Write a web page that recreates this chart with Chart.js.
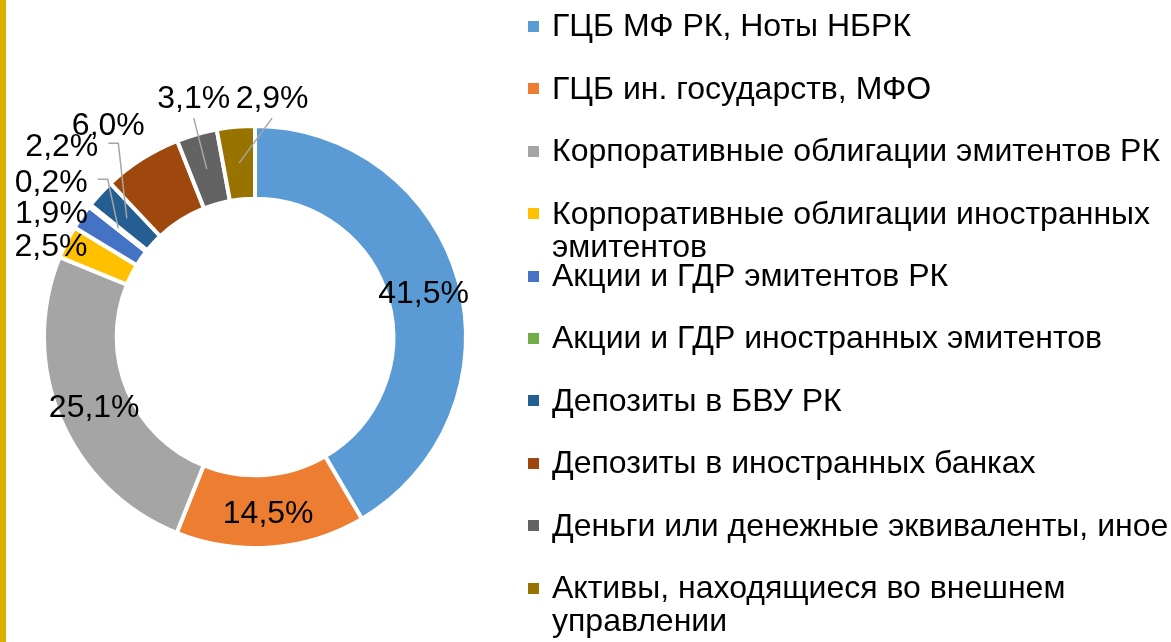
<!DOCTYPE html>
<html lang="ru">
<head>
<meta charset="utf-8">
<title>Структура портфеля</title>
<script src="https://cdn.jsdelivr.net/npm/chart.js@4.4.1/dist/chart.umd.min.js"></script>
<style>
    html, body {
        margin: 0;
        padding: 0;
        background: #ffffff;
        overflow: hidden;
    }
    .pagina {
        position: relative;
        width: 1171px;
        height: 642px;
        border-left: 6px solid #dbae00;
        box-sizing: border-box;
    }
    #grafico {
        position: absolute;
        left: -6px;
        top: 0;
    }
    .legenda-item {
        position: absolute;
        left: 546px;
        font-family: "Liberation Sans", Arial, sans-serif;
        font-size: 32px;
        line-height: 33px;
        color: #000000;
        white-space: nowrap;
    }
    .legenda-cor {
        position: absolute;
        left: -24px;
        width: 11px;
        height: 11px;
    }
</style>
</head>
<body>
<div class="pagina">
    <canvas id="grafico" width="1171" height="642"></canvas>
    <div id="legenda"></div>
</div>
<script>
const categorias = [
    'ГЦБ МФ РК, Ноты НБРК',
    'ГЦБ ин. государств, МФО',
    'Корпоративные облигации эмитентов РК',
    ['Корпоративные облигации иностранных', 'эмитентов'],
    'Акции и ГДР эмитентов РК',
    'Акции и ГДР иностранных эмитентов',
    'Депозиты в БВУ РК',
    'Депозиты в иностранных банках',
    'Деньги или денежные эквиваленты, иное',
    ['Активы, находящиеся во внешнем', 'управлении']
];
const valores = [41.5, 14.5, 25.1, 2.5, 1.9, 0.2, 2.2, 6.0, 3.1, 2.9];
const cores = [
    '#5b9bd5', '#ed7d31', '#a5a5a5', '#ffc000', '#4472c4',
    '#70ad47', '#255e91', '#9e480e', '#636363', '#997300'
];

// posicao dos rotulos em relacao ao centro de cada fatia (null = dentro da fatia)
const posRotulos = [
    null, null, null,
    { dx: -48, dy: -14 },
    { dx: -60, dy: -26 },
    { dx: -67, dy: -48, guia: 'lado' },
    { dx: -65, dy: -74, guia: 'lado' },
    { dx: -53, dy: -66 },
    { dx: -13, dy: -73, guia: 'baixo' },
    { dx: 33, dy: -67, guia: 'baixo' }
];

const TAM_FONTE = 32;

function formatarPct(v) {
    return v.toFixed(1).replace('.', ',') + '%';
}

const rotulosPlugin = {
    id: 'rotulosPct',
    afterDatasetsDraw(chart) {
        const ctx = chart.ctx;
        const meta = chart.getDatasetMeta(0);
        const dados = chart.data.datasets[0].data;

        ctx.save();
        ctx.font = `${TAM_FONTE}px "Liberation Sans", Arial, sans-serif`;
        ctx.fillStyle = '#000000';
        ctx.textAlign = 'center';
        ctx.textBaseline = 'alphabetic';
        ctx.strokeStyle = '#a6a6a6';
        ctx.lineWidth = 1.5;

        meta.data.forEach((arco, i) => {
            const centro = arco.getCenterPoint();
            const texto = formatarPct(dados[i]);
            const pos = posRotulos[i];
            const meioAlt = TAM_FONTE * 0.358;

            if (!pos) {
                ctx.fillText(texto, centro.x, centro.y + meioAlt);
                return;
            }

            const x = centro.x + pos.dx;
            const y = centro.y + pos.dy;
            const largura = ctx.measureText(texto).width;

            if (pos.guia === 'lado') {
                const x0 = x + largura / 2 + 10;
                ctx.beginPath();
                ctx.moveTo(x0, y - 1);
                ctx.lineTo(x0 + 10, y - 1);
                ctx.lineTo(centro.x, centro.y);
                ctx.stroke();
            } else if (pos.guia === 'baixo') {
                ctx.beginPath();
                ctx.moveTo(x, y + 22);
                ctx.lineTo(centro.x, centro.y);
                ctx.stroke();
            }

            ctx.fillText(texto, x, y + meioAlt);
        });

        ctx.restore();
    }
};

const grafico = new Chart(document.getElementById('grafico'), {
    type: 'doughnut',
    data: {
        labels: categorias,
        datasets: [
            {
                data: valores,
                backgroundColor: cores,
                borderColor: '#ffffff',
                borderWidth: 4
            }
        ]
    },
    options: {
        responsive: false,
        animation: false,
        radius: 211,
        cutout: 137,
        layout: {
            padding: { left: 44, top: 126, right: 705, bottom: 94 }
        },
        plugins: {
            legend: { display: false },
            tooltip: { enabled: false }
        }
    },
    plugins: [rotulosPlugin]
});

function montarLegenda() {
    const legendaEl = document.getElementById('legenda');
    const rotulos = grafico.data.labels;
    const fundo = grafico.data.datasets[0].backgroundColor;

    rotulos.forEach((rotulo, i) => {
        const topoQuadro = 21 + 62.4 * i;
        const item = document.createElement('div');
        item.className = 'legenda-item';
        item.style.top = `${topoQuadro - 11.6}px`;

        const quadro = document.createElement('span');
        quadro.className = 'legenda-cor';
        quadro.style.top = '11.6px';
        quadro.style.background = fundo[i];
        item.appendChild(quadro);

        const linhas = Array.isArray(rotulo) ? rotulo : [rotulo];
        linhas.forEach((linha, j) => {
            if (j > 0) {
                item.appendChild(document.createElement('br'));
            }
            item.appendChild(document.createTextNode(linha));
        });

        legendaEl.appendChild(item);
    });
}

montarLegenda();
</script>
</body>
</html>
